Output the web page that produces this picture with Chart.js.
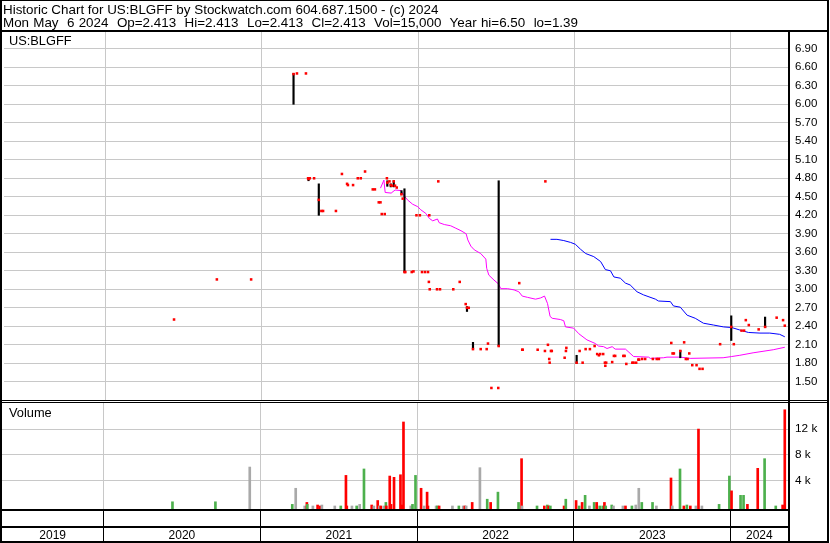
<!DOCTYPE html>
<html><head><meta charset="utf-8">
<script src="https://cdn.jsdelivr.net/npm/chart.js@4.4.1/dist/chart.umd.min.js"></script>
<style>
html,body{margin:0;padding:0;background:#fff;}
#wrap{position:relative;width:830px;height:543px;overflow:hidden;font-family:"Liberation Sans",Arial,sans-serif;background:#fff;}
canvas{position:absolute;left:0;top:0;}
.t{position:absolute;white-space:pre;line-height:1;color:#000;}
.ln{position:absolute;background:#000;}
</style></head><body>
<div id="wrap">
<canvas id="cp" width="830" height="543"></canvas>
<canvas id="cv" width="830" height="543"></canvas>
<div class="t" style="left:3px;top:2.7px;font-size:13.4px">Historic Chart for US:BLGFF by Stockwatch.com 604.687.1500 - (c) 2024</div>
<div class="t" style="left:3px;top:16px;font-size:13.4px;word-spacing:0.5px">Mon May  6 2024  Op=2.413  Hi=2.413  Lo=2.413  Cl=2.413  Vol=15,000  Year hi=6.50  lo=1.39</div>
<div class="t" style="left:9px;top:35.2px;font-size:12.8px">US:BLGFF</div>
<div class="t" style="left:9px;top:407px;font-size:12.8px">Volume</div>
<div style="position:absolute;left:0;top:0;width:829px;height:543px;box-sizing:border-box;border:2px solid #000;border-top-width:1px"></div>
<div class="ln" style="left:0;top:30px;width:829px;height:2px"></div>
<div class="ln" style="left:0;top:400px;width:829px;height:1px"></div>
<div class="ln" style="left:0;top:402px;width:829px;height:1px"></div>
<div class="ln" style="left:788px;top:31px;width:2px;height:511px"></div>
<div class="ln" style="left:0;top:509px;width:790px;height:2px"></div>
<div class="ln" style="left:0;top:526px;width:790px;height:2px"></div>
</div>
<script>
// ---------- DATA ----------
const closeDates = [
 '2020-06-10','2020-09-18','2020-12-07',
 '2021-03-16','2021-03-24','2021-04-14','2021-04-19','2021-04-20','2021-04-23','2021-05-03','2021-05-14','2021-05-20','2021-05-24',
 '2021-06-23','2021-07-07','2021-07-19','2021-07-21','2021-08-02','2021-08-13','2021-08-20','2021-08-30','2021-09-17','2021-09-22',
 '2021-10-01','2021-10-05','2021-10-08','2021-10-15','2021-10-20','2021-10-21','2021-10-26','2021-10-29','2021-11-01','2021-11-05',
 '2021-11-08','2021-11-12','2021-11-23','2021-11-26','2021-11-30','2021-12-02','2021-12-17','2021-12-21','2021-12-28',
 '2022-01-05','2022-01-10','2022-01-17','2022-01-24','2022-01-26','2022-01-27','2022-01-28','2022-02-14','2022-02-17','2022-02-21',
 '2022-03-24','2022-04-08','2022-04-22','2022-04-25','2022-04-29','2022-05-09','2022-05-27','2022-06-10','2022-06-13','2022-06-21',
 '2022-07-07','2022-07-08','2022-08-25','2022-09-01','2022-09-02','2022-10-07','2022-10-24','2022-10-25','2022-10-31','2022-11-03',
 '2022-11-04','2022-11-07','2022-11-09','2022-12-09','2022-12-12','2022-12-13',
 '2023-01-06','2023-01-13','2023-01-20','2023-01-27','2023-02-06','2023-02-17','2023-02-23','2023-02-27','2023-03-02','2023-03-09',
 '2023-03-13','2023-03-14','2023-03-16','2023-03-30','2023-04-03','2023-04-06','2023-04-25','2023-04-28','2023-05-02','2023-05-16',
 '2023-05-19','2023-05-25','2023-05-30','2023-06-01','2023-06-08','2023-06-15','2023-07-03','2023-07-12','2023-07-17','2023-08-15',
 '2023-08-18','2023-08-21','2023-09-05','2023-09-14','2023-09-18','2023-09-22','2023-09-26','2023-10-03','2023-10-13','2023-10-20',
 '2023-10-27','2023-12-07',
 '2024-01-02','2024-01-08','2024-01-26','2024-02-01','2024-02-05','2024-02-12','2024-03-06','2024-03-21','2024-04-17','2024-05-02',
 '2024-05-06'
];
const closeValues = [
 2.51,3.16,3.16,
 6.49,6.50,6.50,4.80,4.79,4.80,4.80,4.45,4.27,4.27,
 4.27,4.87,4.71,4.69,4.69,4.80,4.80,4.91,4.62,4.62,
 4.41,4.41,4.22,4.22,4.80,4.73,4.75,4.69,4.68,4.75,
 4.68,4.65,4.54,4.47,3.28,3.28,3.28,3.29,4.20,
 4.20,3.28,3.28,3.28,3.12,4.20,3.00,3.00,4.75,3.00,
 3.00,3.12,2.76,2.70,2.70,2.03,2.03,2.03,2.12,1.40,
 1.40,2.08,3.10,2.02,2.02,2.02,2.00,4.75,2.10,1.87,
 1.81,2.00,2.00,1.89,2.00,2.05,
 1.81,2.00,1.81,2.03,2.03,2.08,1.95,1.93,1.95,1.95,
 1.81,1.76,1.81,1.82,1.92,1.92,1.92,1.92,1.79,1.81,
 1.81,1.81,1.86,1.86,1.87,1.87,1.87,1.87,1.87,2.13,
 1.96,1.96,2.00,2.14,1.87,1.87,1.96,1.77,1.77,1.71,
 1.71,2.11,
 2.39,2.11,2.33,2.33,2.50,2.42,2.35,2.39,2.54,2.50,
 2.41
];
const rangeDates = ['2021-03-16','2021-04-20','2021-05-14','2021-10-21','2021-10-29','2021-11-05','2021-11-23','2021-11-30',
 '2022-04-25','2022-05-09','2022-07-08','2023-01-06','2023-09-05','2024-01-02','2024-03-21'];
const rangeHigh = [6.50,4.81,4.71,4.76,4.71,4.76,4.60,4.63,2.72,2.14,4.76,1.93,2.01,2.57,2.55];
const rangeLow  = [6.00,4.76,4.20,4.67,4.66,4.66,4.54,3.28,2.64,2.03,2.08,1.80,1.89,2.17,2.38];

const maShortDates = ['2021-10-05','2021-10-13','2021-10-16','2021-10-30','2021-11-08','2021-11-22','2021-11-30','2021-12-07','2021-12-19','2021-12-31',
 '2022-01-07','2022-01-19','2022-01-27','2022-02-04','2022-02-15','2022-02-19','2022-03-03','2022-03-18','2022-03-30','2022-04-11',
 '2022-04-23','2022-04-27','2022-05-04','2022-05-12','2022-05-27','2022-06-08','2022-06-10','2022-06-15','2022-06-27','2022-07-07',
 '2022-07-13','2022-07-29','2022-08-13','2022-08-24','2022-09-01','2022-09-13','2022-10-02','2022-10-14','2022-10-23','2022-10-30',
 '2022-11-05','2022-11-10','2022-11-29','2022-12-07','2022-12-11','2022-12-30','2023-01-11','2023-01-30','2023-02-19','2023-02-26',
 '2023-03-10','2023-03-18','2023-03-30','2023-04-06','2023-04-30','2023-05-19','2023-06-23','2023-06-27','2023-07-28','2023-08-05',
 '2023-09-05','2023-09-28','2023-12-14','2024-01-03','2024-01-22','2024-02-22','2024-04-09','2024-05-06'];
const maShortValues = [4.64,4.77,4.57,4.56,4.61,4.60,4.51,4.45,4.38,4.34,
 4.29,4.23,4.15,4.11,4.14,4.08,4.05,4.03,3.99,3.95,
 3.90,3.80,3.70,3.64,3.58,3.49,3.34,3.23,3.15,3.09,
 3.01,3.01,2.99,2.96,2.89,2.87,2.84,2.86,2.89,2.77,
 2.56,2.53,2.51,2.49,2.39,2.37,2.28,2.18,2.12,2.08,
 2.07,2.04,2.07,2.03,2.03,1.91,1.90,1.88,1.89,1.90,
 1.90,1.88,1.89,1.91,1.93,1.97,2.02,2.06];

const maLongDates = ['2022-11-06','2022-11-21','2022-12-07','2022-12-23','2023-01-03','2023-01-15','2023-01-27','2023-02-15','2023-03-03','2023-03-14',
 '2023-03-26','2023-04-03','2023-04-18','2023-04-30','2023-05-11','2023-05-27','2023-06-11','2023-07-09','2023-07-16','2023-08-13',
 '2023-08-20','2023-09-05','2023-09-21','2023-10-10','2023-10-29','2023-11-22','2023-12-15','2024-01-03','2024-01-22','2024-02-11',
 '2024-03-09','2024-04-01','2024-04-24','2024-05-06'];
const maLongValues = [3.81,3.81,3.79,3.76,3.73,3.65,3.58,3.53,3.45,3.32,
 3.30,3.20,3.18,3.10,3.07,2.96,2.91,2.84,2.81,2.80,
 2.73,2.71,2.58,2.53,2.45,2.42,2.39,2.38,2.34,2.30,
 2.29,2.29,2.27,2.23];

const volDates = [
 '2020-06-10','2020-09-18','2020-12-07',
 '2021-03-16','2021-03-24','2021-04-14','2021-04-19','2021-04-20','2021-05-03','2021-05-14','2021-05-20','2021-05-24','2021-06-23',
 '2021-07-07','2021-07-19','2021-07-21','2021-08-02','2021-08-13','2021-08-20','2021-08-30','2021-09-17','2021-09-22','2021-10-01',
 '2021-10-05','2021-10-08','2021-10-15','2021-10-20','2021-10-21','2021-10-29','2021-11-01','2021-11-08','2021-11-23','2021-11-26',
 '2021-11-30','2021-12-17','2021-12-21','2021-12-28',
 '2022-01-10','2022-01-17','2022-01-24','2022-01-26','2022-02-14','2022-02-17','2022-02-21','2022-03-24','2022-04-08','2022-04-18',
 '2022-04-22','2022-04-25','2022-05-09','2022-05-27','2022-06-13','2022-06-21','2022-07-08','2022-08-25','2022-09-01','2022-09-02',
 '2022-10-07','2022-10-24','2022-10-31','2022-11-03','2022-11-07','2022-12-09','2022-12-13',
 '2023-01-06','2023-01-13','2023-01-20','2023-01-27','2023-02-06','2023-02-17','2023-02-23','2023-03-02','2023-03-09','2023-03-13',
 '2023-03-16','2023-03-30','2023-04-03','2023-04-25','2023-05-01','2023-05-16','2023-05-25','2023-06-01','2023-06-08','2023-07-03',
 '2023-07-12','2023-08-15','2023-08-18','2023-09-05','2023-09-14','2023-09-21','2023-09-29','2023-10-12','2023-10-18','2023-10-26',
 '2023-12-05','2023-12-29',
 '2024-01-03','2024-01-24','2024-01-31','2024-02-09','2024-03-04','2024-03-20','2024-04-15','2024-05-01','2024-05-06'
];
const volValues = [
 700,700,6100,
 300,2800,50,600,300,50,200,50,200,50,
 50,4800,50,50,50,300,5800,200,50,900,
 50,50,50,600,50,4700,300,4500,4900,200,
 13100,50,300,4800,
 2800,50,2200,50,50,50,50,50,50,50,
 50,50,600,6000,1100,600,2200,600,7400,50,
 50,50,200,50,50,50,1100,
 900,50,600,1700,50,600,600,50,50,600,
 50,200,50,50,50,50,200,2800,600,600,
 50,4400,50,5800,50,200,50,50,12000,50,
 300,4700,
 2400,1700,1700,300,5900,7400,50,200,15000
];
// u = closed up, d = closed down, n = unchanged
const volDirs = [
 'u','u','n',
 'u','n','n','d','u','n','d','d','n','n',
 'u','d','d','n','u','n','u','d','n','d',
 'n','d','n','u','d','d','d','d','d','d',
 'd','n','u','u',
 'd','n','d','d','n','u','d','n','u','n',
 'd','n','d','n','u','d','u','u','d','n',
 'u','d','u','d','u','d','u',
 'd','u','d','u','n','u','d','u','u','d',
 'u','u','n','n','d','u','n','n','u','u',
 'n','d','n','u','d','u','d','n','d','n',
 'u','u',
 'd','u','u','d','d','u','u','d','d'
];

const priceTickLabels = ['1.50','1.80','2.10','2.40','2.70','3.00','3.30','3.60','3.90','4.20','4.50','4.80','5.10','5.40','5.70','6.00','6.30','6.60','6.90'];
const volTickLabels = ['4 k','8 k','12 k'];
const volTickValues = [4000,8000,12000];
const yearLabels = ['2019','2020','2021','2022','2023','2024'];
const yearStarts = ['2020-01-01','2021-01-01','2022-01-01','2023-01-01','2024-01-01'];

// ---------- helpers / layout ----------
const dayNum = s => (Date.UTC(+s.slice(0,4), +s.slice(5,7)-1, +s.slice(8,10)) - Date.UTC(2020,0,1)) / 864e5;
const X_MIN = -236, X_MAX = 1594.5;
const P_MIN = 1.205, P_MAX = 7.172;
const V_MIN = -420, V_MAX = 16050;
const GRID = '#c8c8c8';
const dirColor = {u:'#4db04d', d:'#ff0000', n:'#a9a9a9'};
Chart.defaults.font.family = '"Liberation Sans", Arial, sans-serif';
Chart.defaults.color = '#000';

const yearTickVals = yearStarts.map(dayNum);
const bounds = [X_MIN, ...yearTickVals, X_MAX];
const yearCenters = yearLabels.map((l,i) => (bounds[i] + bounds[i+1]) / 2);

const common = {
  responsive:false, maintainAspectRatio:false, animation:false, devicePixelRatio:1, events:[],
  plugins:{legend:{display:false}, tooltip:{enabled:false}, title:{display:false}}
};

// ---------- price chart ----------
new Chart(document.getElementById('cp'), {
  type:'bar',
  data:{datasets:[
    {type:'line', data: maShortDates.map((d,i)=>({x:dayNum(d), y:maShortValues[i]})), borderColor:'#ff00ff', borderWidth:1, pointRadius:0, tension:0, order:4},
    {type:'line', data: maLongDates.map((d,i)=>({x:dayNum(d), y:maLongValues[i]})), borderColor:'#0000ff', borderWidth:1, pointRadius:0, tension:0, order:3},
    {type:'bar', data: rangeDates.map((d,i)=>({x:dayNum(d), y:[rangeLow[i], rangeHigh[i]]})), backgroundColor:'#000', barThickness:1.5, borderWidth:0, order:2},
    {type:'line', showLine:false, data: closeDates.map((d,i)=>({x:dayNum(d), y:closeValues[i]})), pointStyle:'rect', pointRadius:1.8,
      pointBackgroundColor:'#ff0000', pointBorderColor:'#ff0000', pointBorderWidth:0, order:1}
  ]},
  options:Object.assign({}, common, {
    layout:{padding:{left:2, top:32, right:2, bottom:143}},
    scales:{
      x:{type:'linear', position:'bottom', min:X_MIN, max:X_MAX, offset:false,
         afterBuildTicks:s=>{s.ticks = yearTickVals.map(v=>({value:v}));},
         afterFit:s=>{s.height = 0;},
         ticks:{display:false}, grid:{color:GRID, lineWidth:1, drawTicks:false, offset:false}, border:{display:false}},
      y:{type:'linear', position:'right', min:P_MIN, max:P_MAX,
         afterBuildTicks:s=>{s.ticks = priceTickLabels.map(l=>({value:parseFloat(l)}));},
         afterFit:s=>{s.width = 40;},
         ticks:{callback:(v,i)=>priceTickLabels[i], padding:7, font:{size:11.5}, color:'#000', autoSkip:false},
         grid:{color:GRID, lineWidth:1, drawTicks:false}, border:{display:false}}
    }
  })
});

// ---------- volume chart ----------
new Chart(document.getElementById('cv'), {
  type:'bar',
  data:{datasets:[
    {type:'bar', data: volDates.map((d,i)=>({x:dayNum(d), y:volValues[i]})),
     backgroundColor: volDirs.map(k=>dirColor[k]), barThickness:2, borderWidth:0, base:V_MIN}
  ]},
  options:Object.assign({}, common, {
    layout:{padding:{left:2, top:403, right:2, bottom:0}},
    scales:{
      x:{type:'linear', position:'bottom', weight:0, min:X_MIN, max:X_MAX, offset:false,
         afterBuildTicks:s=>{s.ticks = yearTickVals.map(v=>({value:v}));},
         afterFit:s=>{s.height = 17;},
         ticks:{display:false},
         grid:{color:GRID, tickColor:'#000', lineWidth:1, drawTicks:true, tickLength:32, offset:false},
         border:{display:false}},
      xl:{type:'linear', position:'bottom', weight:1, min:X_MIN, max:X_MAX, offset:false,
         afterBuildTicks:s=>{s.ticks = yearCenters.map(v=>({value:v}));},
         afterFit:s=>{s.height = 17;},
         ticks:{callback:(v,i)=>yearLabels[i], padding:-5.2, font:{size:12}, color:'#000', maxRotation:0, minRotation:0, autoSkip:false},
         grid:{display:false}, border:{display:false}},
      y:{type:'linear', position:'right', min:V_MIN, max:V_MAX,
         afterBuildTicks:s=>{s.ticks = volTickValues.map(v=>({value:v}));},
         afterFit:s=>{s.width = 40;},
         ticks:{callback:(v,i)=>volTickLabels[i], padding:7, font:{size:11.8}, color:'#000', autoSkip:false},
         grid:{color:GRID, lineWidth:1, drawTicks:false}, border:{display:false}}
    }
  })
});
</script>
</body></html>
